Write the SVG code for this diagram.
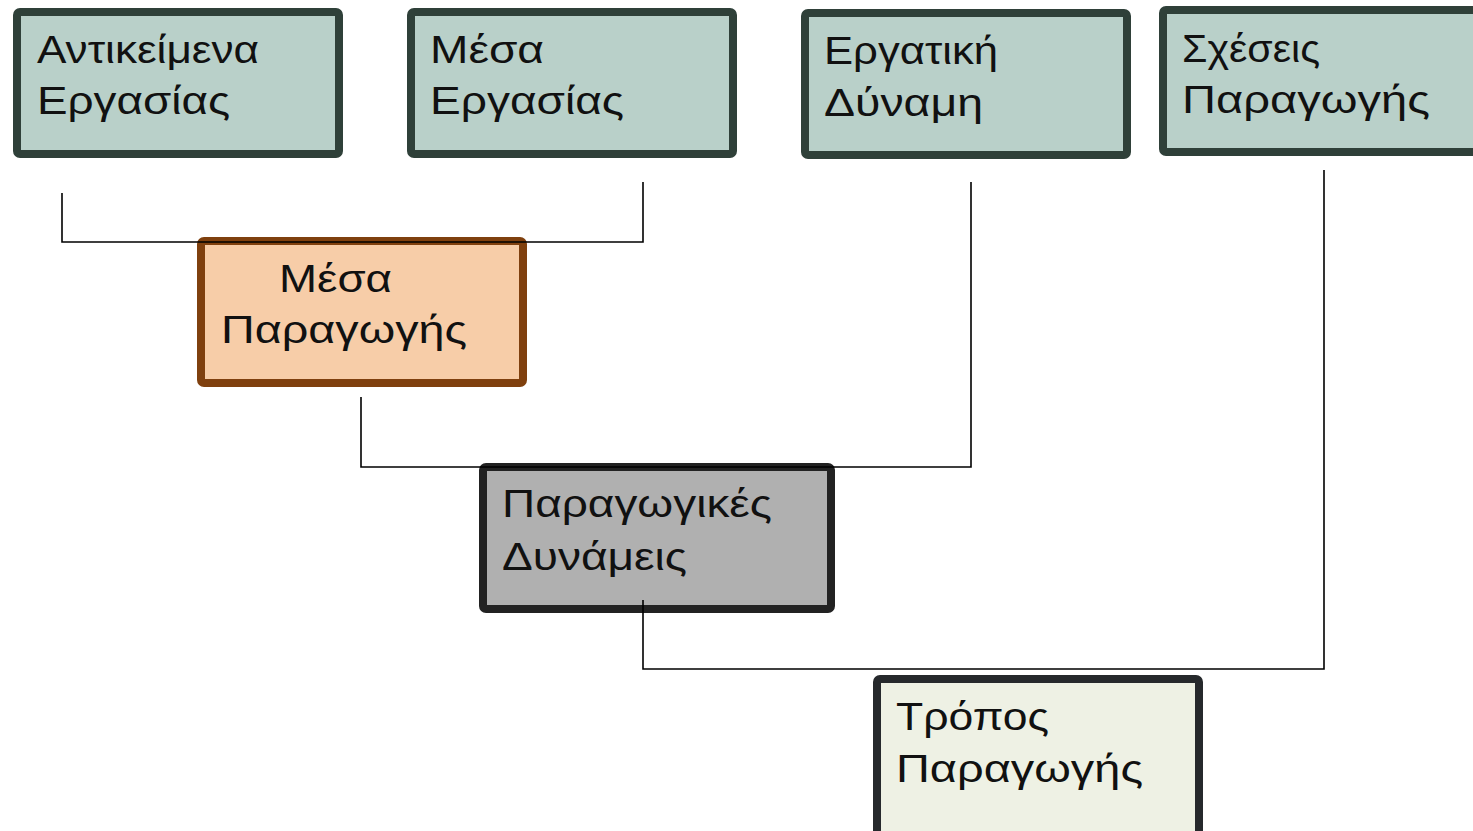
<svg xmlns="http://www.w3.org/2000/svg" width="1473" height="831" viewBox="0 0 1473 831">
<style>
text{font-family:"Liberation Sans","DejaVu Sans",sans-serif;font-size:39px;fill:#111}
.g{fill:#B9D0C9;stroke:#2F4039;stroke-width:8}
.o{fill:#F7CDA8;stroke:#7F400E;stroke-width:8}
.d{fill:#B0B0B0;stroke:#222222;stroke-width:8}
.l{fill:#EEF1E4;stroke:#26292C;stroke-width:8}
.c{fill:none;stroke:#000;stroke-width:1.6}
</style>
<rect width="1473" height="831" fill="#fff"/>
<g id="n1"><rect class="g" x="17" y="12" width="322" height="142" rx="3"/><text x="37" y="63" textLength="222" lengthAdjust="spacingAndGlyphs">Αντικείμενα</text><text x="37" y="114" textLength="193" lengthAdjust="spacingAndGlyphs">Εργασίας</text></g>
<g id="n2"><rect class="g" x="411" y="12" width="322" height="142" rx="3"/><text x="430" y="63" textLength="114" lengthAdjust="spacingAndGlyphs">Μέσα</text><text x="430" y="114" textLength="194" lengthAdjust="spacingAndGlyphs">Εργασίας</text></g>
<g id="n3"><rect class="g" x="805" y="13" width="322" height="142" rx="3"/><text x="824" y="64" textLength="174" lengthAdjust="spacingAndGlyphs">Εργατική</text><text x="824" y="116" textLength="159" lengthAdjust="spacingAndGlyphs">Δύναμη</text></g>
<g id="n4"><rect class="g" x="1163" y="10" width="322" height="142" rx="3"/><text x="1182" y="62" textLength="138" lengthAdjust="spacingAndGlyphs">Σχέσεις</text><text x="1182" y="113" textLength="248" lengthAdjust="spacingAndGlyphs">Παραγωγής</text></g>
<g id="n5"><rect class="o" x="201" y="241" width="322" height="142" rx="3"/><text x="279" y="292" textLength="113" lengthAdjust="spacingAndGlyphs">Μέσα</text><text x="221" y="343" textLength="246" lengthAdjust="spacingAndGlyphs">Παραγωγής</text></g>
<g id="n6"><rect class="d" x="483" y="467" width="348" height="142" rx="3"/><text x="502" y="517" textLength="270" lengthAdjust="spacingAndGlyphs">Παραγωγικές</text><text x="502" y="570" textLength="185" lengthAdjust="spacingAndGlyphs">Δυνάμεις</text></g>
<g id="n7"><rect class="l" x="877" y="679" width="322" height="160" rx="3"/><text x="896" y="730" textLength="153" lengthAdjust="spacingAndGlyphs">Τρόπος</text><text x="896" y="782" textLength="247" lengthAdjust="spacingAndGlyphs">Παραγωγής</text></g>
<g id="connectors">
<polyline class="c" points="62,193 62,242 643,242 643,182"/>
<polyline class="c" points="361,397 361,467 971,467 971,182"/>
<polyline class="c" points="643,600 643,669 1324,669 1324,170"/>
</g>
</svg>
